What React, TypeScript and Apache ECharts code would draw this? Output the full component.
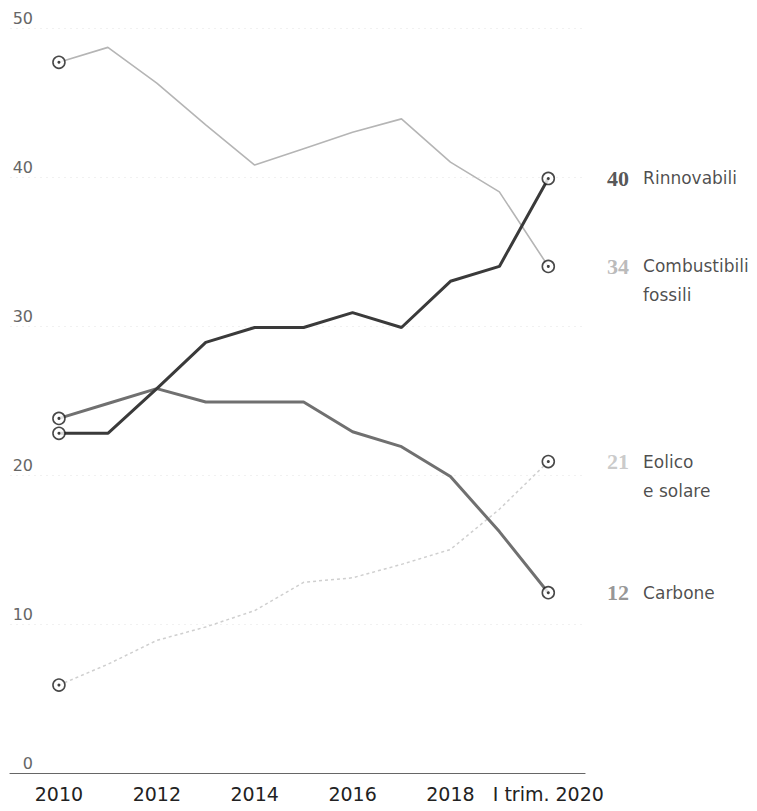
import React, { useEffect, useRef } from "react";
import * as echarts from "echarts";

const categories = ["2010", "2011", "2012", "2013", "2014", "2015", "2016", "2017", "2018", "2019", "I trim. 2020"];
const combustibili = [47.7, 48.7, 46.3, 43.5, 40.8, 41.9, 43.0, 43.9, 41.0, 39.0, 34.0];
const rinnovabili = [22.8, 22.8, 25.8, 28.9, 29.9, 29.9, 30.9, 29.9, 33.0, 34.0, 39.9];
const carbone = [23.8, 24.8, 25.8, 24.9, 24.9, 24.9, 22.9, 21.9, 19.9, 16.2, 12.1];
const eolico = [5.9, 7.3, 8.9, 9.8, 10.9, 12.8, 13.1, 14.0, 15.0, 17.7, 20.9];
const labelEveryOther = [0, 2, 4, 6, 8, 10];

const seriesDefs = [
  { name: "Eolico e solare", lines: ["Eolico", "e solare"], data: eolico, color: "#cfcfcf", width: 1.5, dash: [3, 3], num: "#bdbdbd", z: 2 },
  { name: "Combustibili fossili", lines: ["Combustibili", "fossili"], data: combustibili, color: "#b5b5b5", width: 1.6, dash: "solid", num: "#a9a9a9", z: 3 },
  { name: "Carbone", lines: ["Carbone"], data: carbone, color: "#707070", width: 3, dash: "solid", num: "#7a7a7a", z: 4 },
  { name: "Rinnovabili", lines: ["Rinnovabili"], data: rinnovabili, color: "#3a3a3a", width: 3, dash: "solid", num: "#2a2a2a", z: 5 },
];

export default function App() {
  const ref = useRef<HTMLDivElement>(null);
  useEffect(() => {
    if (!ref.current) return;
    const chart = echarts.init(ref.current, undefined, { renderer: "svg" });
    const last = categories.length - 1;

    const lineSeries = seriesDefs.map((s) => ({
      type: "line",
      name: s.name,
      data: s.data.map((v, i) => [i, v]),
      symbol: "none",
      z: s.z,
      lineStyle: { color: s.color, width: s.width, type: s.dash },
      silent: true,
    }));

    const ringData: any[] = [];
    const dotData: any[] = [];
    seriesDefs.forEach((s) => {
      ringData.push({ value: [0, s.data[0]] });
      dotData.push([0, s.data[0]]);
      dotData.push([last, s.data[last]]);
      const num = String(Math.round(s.data[last]));
      const key = "n" + s.z;
      let fmt = `{${key}|${num}}{g|}{t|${s.lines[0]}}`;
      for (let k = 1; k < s.lines.length; k++) fmt += `\n{p|}{g|}{t|${s.lines[k]}}`;
      ringData.push({
        value: [last, s.data[last]],
        label: {
          show: true,
          position: "right",
          distance: 52,
          align: "left",
          offset: [0, (s.lines.length - 1) * 14.5],
          formatter: fmt,
          rich: {
            [key]: {
              fontFamily: "Liberation Serif",
              fontWeight: "bold",
              fontSize: 22,
              width: 24,
              color: s.num,
              lineHeight: 29,
            },
            g: { width: 12, lineHeight: 29 },
            p: { width: 24, lineHeight: 29 },
            t: { fontFamily: "DejaVu Sans", fontSize: 17, color: "#1e1e1e", lineHeight: 29 },
          },
        },
      });
    });

    chart.setOption({
      animation: false,
      textStyle: { fontFamily: "DejaVu Sans" },
      grid: { left: 10, right: 172, top: 28, bottom: 38, containLabel: false },
      xAxis: {
        type: "value",
        min: -1,
        max: 10.75,
        interval: 1,
        axisLine: { show: true, lineStyle: { color: "#666", width: 1.2 } },
        axisTick: { show: false },
        splitLine: { show: false },
        axisLabel: {
          margin: 11,
          fontSize: 19,
          color: "#222",
          fontFamily: "DejaVu Sans",
          showMinLabel: true,
          showMaxLabel: true,
          formatter: (v: number) => (labelEveryOther.includes(v) ? categories[v] : ""),
        },
      },
      yAxis: {
        type: "value",
        min: 0,
        max: 50,
        interval: 10,
        axisLine: { show: false },
        axisTick: { show: false },
        splitLine: { show: true, lineStyle: { color: "#f1f1f1", type: [2, 4], width: 1 } },
        axisLabel: {
          inside: true,
          margin: 23,
          align: "right",
          verticalAlign: "bottom",
          fontSize: 16,
          color: "#666",
          fontFamily: "DejaVu Sans",
          padding: [0, 0, 2, 0],
        },
      },
      series: [
        ...lineSeries,
        {
          type: "scatter",
          data: ringData,
          symbol: "circle",
          symbolSize: 12,
          z: 10,
          silent: true,
          itemStyle: { color: "#fff", borderColor: "#1a1a1a", borderWidth: 1.6 },
        },
        {
          type: "scatter",
          data: dotData,
          symbol: "circle",
          symbolSize: 3,
          z: 11,
          silent: true,
          itemStyle: { color: "#111" },
        },
      ],
    });
    return () => chart.dispose();
  }, []);
  return <div ref={ref} style={{ position: "fixed", left: 0, top: 0, width: 757, height: 811, background: "#fff" }} />;
}
